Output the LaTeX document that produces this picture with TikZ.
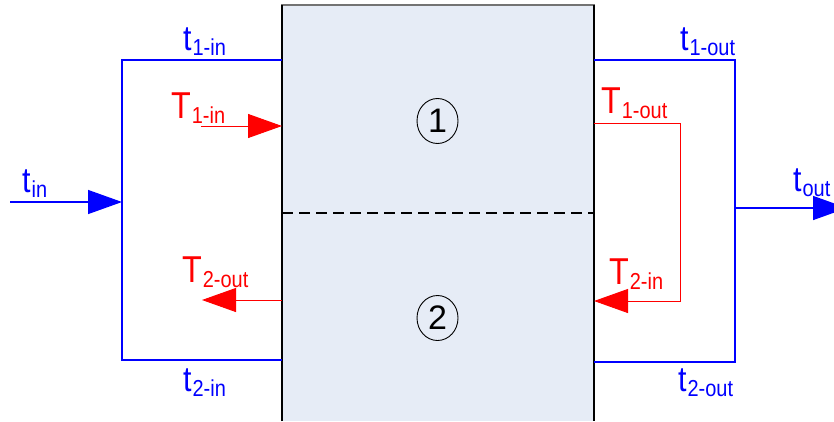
\documentclass[tikz,border=0pt]{standalone}
\usepackage{fontspec}
\setmainfont{Liberation Sans}
\usetikzlibrary{arrows.meta,shapes.geometric}

\definecolor{boxfill}{RGB}{230,236,246}
\definecolor{flowblue}{RGB}{0,0,255}
\definecolor{flowred}{RGB}{255,0,0}

% symbol with a lowered subscript, slightly tall letterforms, e.g. \sym{t}{1-in}
\newcommand{\sym}[2]{\scalebox{0.95}[1.1]{#1\kern1pt\raisebox{-5pt}{\fontsize{21}{21}\selectfont #2}}}

\tikzset{
  pipe/.style={draw=flowblue, line width=1.4pt},
  hot/.style={draw=flowred, line width=1pt},
  bluehead/.style={-{Triangle[length=34pt,width=24pt]}},
  redhead/.style={-{Triangle[length=34pt,width=24pt]}},
  bluelbl/.style={text=flowblue, inner sep=0pt, anchor=base west, font=\fontsize{32}{32}\selectfont},
  redlbl/.style={text=flowred, inner sep=0pt, anchor=base west, font=\fontsize{34}{34}\selectfont},
  passno/.style={draw=black, line width=0.9pt, ellipse, minimum width=41pt, minimum height=45pt, inner sep=0pt, font=\fontsize{34}{34}\selectfont},
}

\begin{document}
\begin{tikzpicture}[x=1pt,y=-1pt]
\useasboundingbox (0,0) rectangle (834,421);
\clip (0,0) rectangle (834,421);

% exchanger body
\fill[boxfill] (282,5) rectangle (594,421);
\draw[draw=black!55, line width=1.4pt] (282,421) -- (282,5) -- (594,5) -- (594,421);
\draw[black, line width=1.4pt] (282,421) -- (282,5);
\draw[black, line width=1.4pt] (594,5) -- (594,421);
\draw[black, line width=1.1pt, dash pattern=on 11pt off 6pt] (282,213) -- (594,213);

\node[passno] (p1) at (437.5,121) {1};
\node[passno] (p2) at (437.5,318) {2};

% cold side: inlet splitting into two streams
\coordinate (in0) at (10,202);
\coordinate (split) at (122,202);
\coordinate (sTop) at (122,60);
\coordinate (sBot) at (122,360);
\coordinate (a1in) at (282,60);
\coordinate (a2in) at (282,360);
\draw[pipe, bluehead] (in0) -- (split);
\draw[pipe] (a1in) -- (sTop) -- (sBot) -- (a2in);

% cold side: two streams merging to the outlet
\coordinate (a1out) at (594,60);
\coordinate (a2out) at (594,362);
\coordinate (mTop) at (735,60);
\coordinate (mBot) at (735,362);
\coordinate (merge) at (735,208);
\coordinate (out0) at (847,208);
\draw[pipe] (a1out) -- (mTop) -- (mBot) -- (a2out);
\draw[pipe, bluehead] (merge) -- (out0);

% hot side
\coordinate (h1s) at (201,126);
\coordinate (h1e) at (282,126);
\draw[hot, redhead] (h1s) -- (h1e);
\coordinate (h1o) at (594,123);
\coordinate (hr1) at (680,123);
\coordinate (hr2) at (680,301);
\coordinate (h2i) at (594,301);
\draw[hot, redhead] (h1o) -- (hr1) -- (hr2) -- (h2i);
\coordinate (h2s) at (282,300);
\coordinate (h2e) at (202,300);
\draw[hot, redhead] (h2s) -- (h2e);

% labels
\node[bluelbl] (ltin) at (22,192) {\sym{t}{in}};
\node[bluelbl] (lt1in) at (183,50) {\sym{t}{1-in}};
\node[bluelbl] (lt2in) at (183,391) {\sym{t}{2-in}};
\node[bluelbl] (lt1out) at (680,50) {\sym{t}{1-out}};
\node[bluelbl] (lt2out) at (678,391) {\sym{t}{2-out}};
\node[bluelbl] (ltout) at (793,191) {\sym{t}{out}};
\node[redlbl] (lT1in) at (171,118) {\sym{T}{1-in}};
\node[redlbl] (lT1out) at (601,113) {\sym{T}{1-out}};
\node[redlbl] (lT2in) at (609,284) {\sym{T}{2-in}};
\node[redlbl] (lT2out) at (182,282) {\sym{T}{2-out}};
\end{tikzpicture}
\end{document}
